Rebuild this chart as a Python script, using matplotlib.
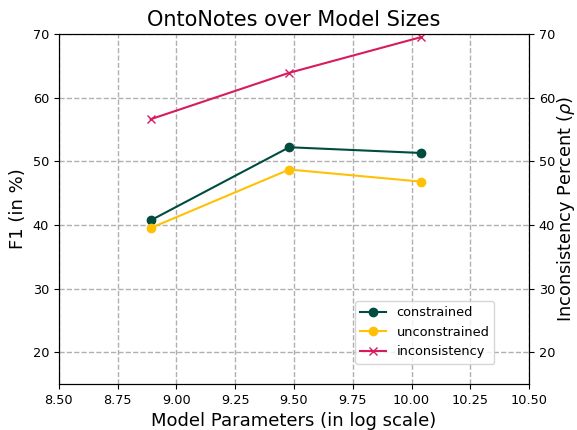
import matplotlib
matplotlib.use("Agg")
import matplotlib.pyplot as plt

# log10 of model parameter counts
params = [8.89, 9.48, 10.04]
constrained = [40.7, 52.2, 51.3]
unconstrained = [39.5, 48.7, 46.8]
inconsistency = [56.6, 63.9, 69.5]

fig, ax = plt.subplots(figsize=(5.77, 4.3), dpi=100)
ax2 = ax.twinx()

l1, = ax.plot(params, constrained, marker='o', color='#004D40', label='constrained')
l2, = ax.plot(params, unconstrained, marker='o', color='#FFC107', label='unconstrained')
l3, = ax2.plot(params, inconsistency, marker='x', color='#D81B60', label='inconsistency')

ax.set_xlim(8.5, 10.5)
ax.set_ylim(15, 70)
ax2.set_ylim(15, 70)
ax.set_xticks([8.5, 8.75, 9.0, 9.25, 9.5, 9.75, 10.0, 10.25, 10.5])
ax.set_yticks([20, 30, 40, 50, 60, 70])
ax2.set_yticks([20, 30, 40, 50, 60, 70])
ax.tick_params(labelsize=9.3)
ax2.tick_params(labelsize=9.3)
ax.grid(True, linestyle='--', color='#b0b0b0', linewidth=1)

ax.set_title("OntoNotes over Model Sizes", fontsize=15)
ax.set_xlabel("Model Parameters (in log scale)", fontsize=13)
ax.set_ylabel("F1 (in %)", fontsize=13)
ax2.set_ylabel(r"Inconsistency Percent ($\rho$)", fontsize=12.8, labelpad=0)

ax2.legend([l1, l2, l3], ['constrained', 'unconstrained', 'inconsistency'],
           loc='lower right', bbox_to_anchor=(0.94, 0.04), fontsize=9.3)

fig.subplots_adjust(left=0.102, right=0.917, top=0.921, bottom=0.107)
fig.savefig("out.png")
